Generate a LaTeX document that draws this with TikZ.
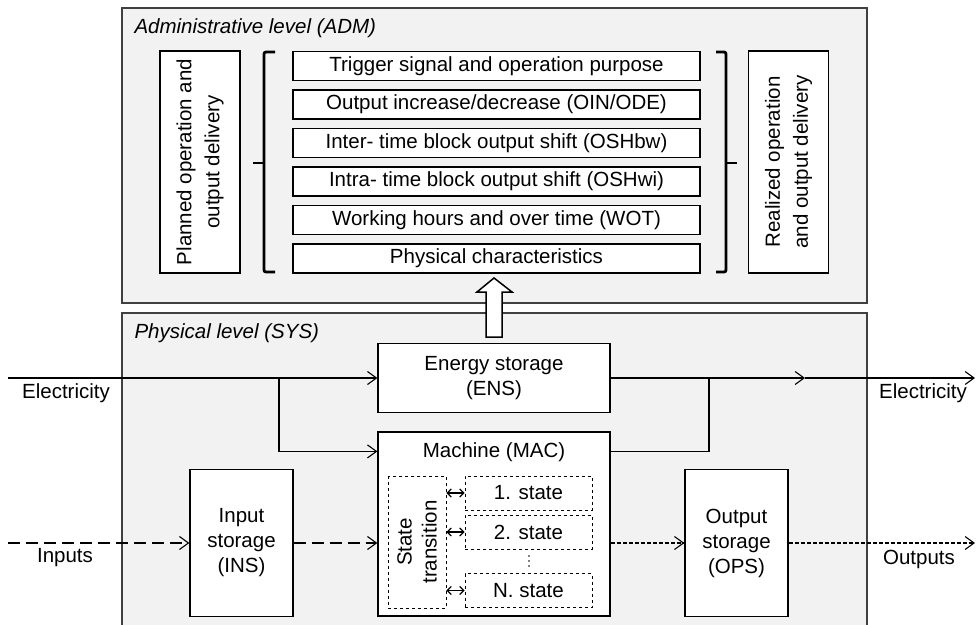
\documentclass[tikz,border=0pt]{standalone}
\usepackage{fontspec}
\setmainfont{Liberation Sans}
\usepackage{tikz}
\usetikzlibrary{arrows.meta}
\tikzset{>={Straight Barb[length=9pt,width=13pt]}}
\tikzstyle{panel}=[draw=black!75,fill=black!5,line width=1.2pt,inner sep=0]
\tikzstyle{box}=[draw,fill=white,line width=1.2pt,inner sep=0,align=center]
\tikzstyle{row}=[box,minimum width=407,minimum height=29]
\tikzstyle{dbox}=[draw,fill=white,dashed,line width=0.9pt,inner sep=0,align=center]
\tikzstyle{flow}=[->,line width=1.1pt]
\tikzstyle{inflow}=[flow,dash pattern=on 12pt off 6pt]
\tikzstyle{outflow}=[flow,dash pattern=on 4pt off 2pt]
\tikzstyle{dflow}=[{Straight Barb[length=4pt,width=8pt]}-{Straight Barb[length=4pt,width=8pt]},line width=1.2pt]
\tikzstyle{bracket}=[line width=2.8pt,rounded corners=2pt]

\begin{document}
\begin{tikzpicture}[x=1pt, y=-1pt, font=\fontsize{20.5}{25}\selectfont]
\clip (0,0) rectangle (976,624);
\fill[white] (0,0) rectangle (976,624);

% levels
\node [panel, minimum width=745, minimum height=295] (adm) at (494.5,155.5) {};
\node [panel, minimum width=745, minimum height=330] (sys) at (494.5,478) {};
\node [anchor=west, font=\fontsize{20.5}{25}\selectfont\itshape] (adm-title) at (131,28) {Administrative level (ADM)};
\node [anchor=west, font=\fontsize{20.5}{25}\selectfont\itshape] (sys-title) at (131,333) {Physical level (SYS)};

% administrative level
\foreach \t [count=\i] in {Trigger signal and operation purpose,
  Output increase/decrease (OIN/ODE),
  Inter- time block output shift (OSHbw),
  Intra- time block output shift (OSHwi),
  Working hours and over time (WOT),
  Physical characteristics}
  \node [row] (row-\i) at (496.5,27.5+\i*38.5) {\t};

\node [box, rotate=90, minimum width=222, minimum height=80, font=\fontsize{20.5}{28}\selectfont] (plan) at (200,162) {Planned operation and\\output delivery};
\node [box, rotate=90, minimum width=222, minimum height=80, font=\fontsize{20.5}{28}\selectfont] (real) at (788.5,162) {Realized operation\\and output delivery};

\draw [bracket] (275,52) -- (264,52) -- (264,272) -- (275,272);
\draw [bracket] (264,163) -- (253,163);
\draw [bracket] (716,52) -- (726,52) -- (726,272) -- (716,272);
\draw [bracket] (726,163) -- (737,163);

% physical level
\node [box, minimum width=232, minimum height=69] (ens) at (494,378) {Energy storage\\(ENS)};
\node [box, minimum width=232, minimum height=184] (mac) at (494,524) {};
\node (mac-title) at (494,452) {Machine (MAC)};
\node [box, minimum width=103, minimum height=147] (ins) at (241.5,543) {Input\\storage\\(INS)};
\node [box, minimum width=103, minimum height=147] (ops) at (736.5,543) {Output\\storage\\(OPS)};

\node [dbox, rotate=90, minimum width=132, minimum height=58] (st) at (417,542) {State\\transition};
\foreach \m/\y in {1/493,2/532,N/590.5}
  \node [dbox, minimum width=127, minimum height=34] (state-\m) at (528.5,\y) {\m. state};
\foreach \y in {556,561,566}
  \fill (529,\y) circle (0.9pt);

\foreach \m in {1,2,N}
  \draw [dflow] (st.south |- state-\m.west) -- (state-\m.west);

% feedback to administrative level
\draw [line width=1.5pt, fill=white] (486,337) -- (486,292) -- (477,292) -- (494,278)
  -- (512,292) -- (502,292) -- (502,337) -- cycle;

% flows
\coordinate (el-in) at (8,378);
\coordinate (el-mid) at (805,378);
\coordinate (el-out) at (975,378);
\coordinate (br-l) at (279,378);
\coordinate (br-r) at (709,378);
\coordinate (in-in) at (8,543);
\coordinate (out-out) at (975,543);

\draw [flow] (el-in) -- (ens.west);
\draw [flow] (br-l) |- ([yshift=-20pt]mac.north west);
\draw [flow] (ens.east) -- (el-mid);
\draw [flow] (el-mid) -- (el-out);
\draw [line width=1.1pt] ([yshift=-20pt]mac.north east) -| (br-r);

\draw [inflow] (in-in) -- (ins.west);
\draw [inflow] (ins.east) -- (ins.east -| mac.west);
\draw [outflow] (ops.west -| mac.east) -- (ops.west);
\draw [outflow] (ops.east) -- (out-out);

\node (el-in-lbl) at (66,393) {Electricity};
\node (el-out-lbl) at (923,393) {Electricity};
\node (in-lbl) at (65,558) {Inputs};
\node (out-lbl) at (919,559) {Outputs};

\end{tikzpicture}
\end{document}
